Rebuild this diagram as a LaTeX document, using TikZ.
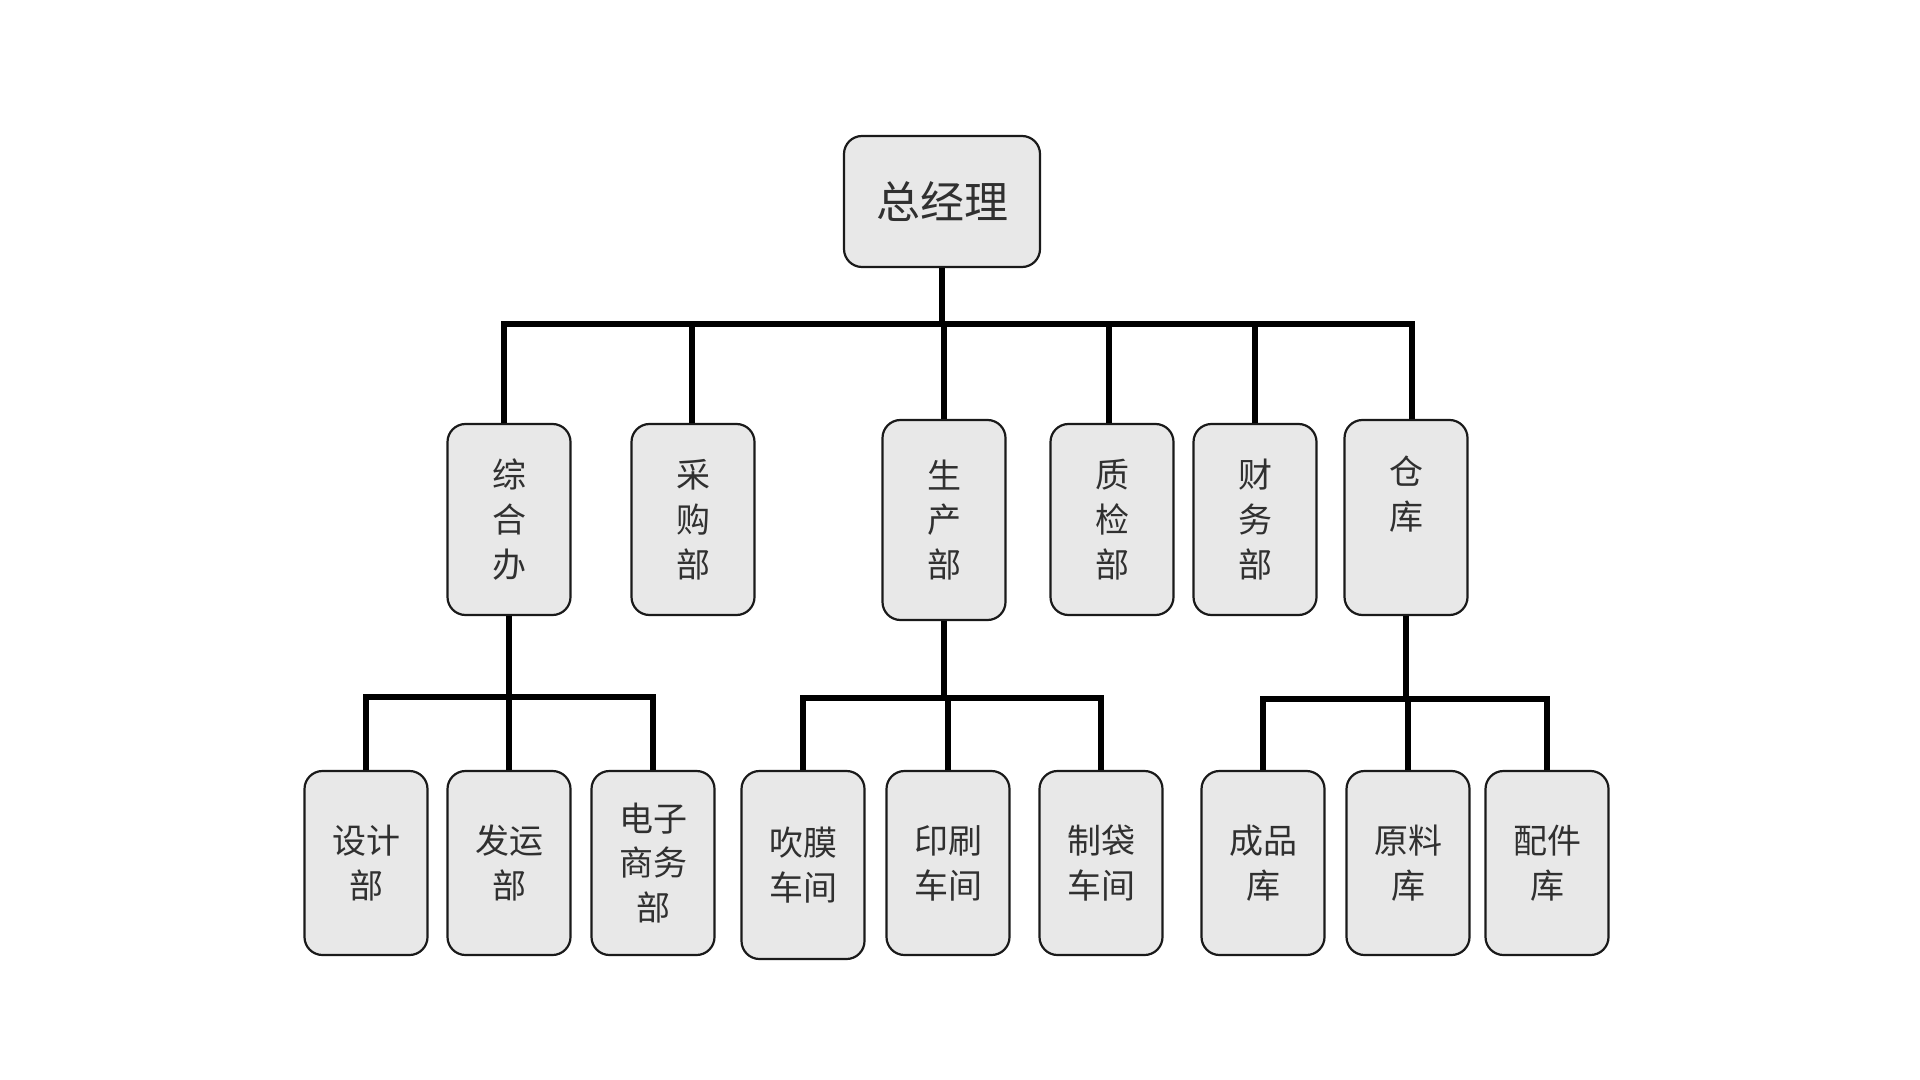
\documentclass[tikz,border=0pt]{standalone}
\usepackage{fontspec}
\newfontfamily\cjk{Noto Sans CJK SC}
\usepackage{xcolor}
\usepackage{tikz}
\usetikzlibrary{positioning,calc}
\definecolor{BoxF}{HTML}{E8E8E8}
\definecolor{BoxD}{HTML}{1A1A1A}
\definecolor{TxtG}{HTML}{303030}

\begin{document}
\begin{tikzpicture}[x=0.5pt,y=-0.5pt,
    unit/.style={draw=BoxD,fill=BoxF,rounded corners=9pt,line width=1.1pt,
      minimum width=61.5pt,minimum height=95.5pt,align=center,text=TxtG,
      font=\cjk\fontsize{17pt}{22.4pt}\selectfont,inner sep=0pt},
    sub/.style={unit,minimum height=92pt},
    head/.style={unit,minimum width=98pt,minimum height=65.5pt,
      font=\cjk\fontsize{22pt}{26pt}\selectfont},
    conn/.style={draw=black,line width=2.8pt}]
  \useasboundingbox (0,0) rectangle (1920,1080);
  % top
  \node[head] (gm) at (942,201.5) {总经理};
  % departments
  \node[unit] (zhb) at (509,519.5) {综\\合\\办};
  \node[unit] (cgb) at (693,519.5) {采\\购\\部};
  \node[unit,minimum height=100pt] (scb) at (944,520) {生\\产\\部};
  \node[unit] (zjb) at (1112,519.5) {质\\检\\部};
  \node[unit] (cwb) at (1255,519.5) {财\\务\\部};
  \node[unit,minimum height=97.5pt] (ck) at (1406,517.5) {仓\\库\\[-4pt]\strut};
  % sections
  \node[sub] (sjb) at (366,863) {设计\\部};
  \node[sub] (fyb) at (509,863) {发运\\部};
  \node[sub] (dzsw) at (653,863) {电子\\商务\\部};
  \node[sub,minimum height=94pt] (cmcj) at (803,865) {吹膜\\车间};
  \node[sub] (yscj) at (948,863) {印刷\\车间};
  \node[sub] (zdcj) at (1101,863) {制袋\\车间};
  \node[sub] (cpk) at (1263,863) {成品\\库};
  \node[sub] (ylk) at (1408,863) {原料\\库};
  \node[sub] (pjk) at (1547,863) {配件\\库};
  % lines
  \coordinate (bus) at ($(gm.south)+(0,56)$);
  \foreach \d/\dx in {zhb/-5,cgb/-1,scb/0,zjb/-3,cwb/0,ck/6}
    \draw[conn] (gm.south) -- (bus) -| ([xshift=\dx*0.5pt]\d.north);
  \coordinate (busA) at ($(zhb.south)+(0,81)$);
  \foreach \d in {sjb,fyb,dzsw}
    \draw[conn] (zhb.south) -- (busA) -| (\d.north);
  \coordinate (busB) at ($(scb.south)+(0,77)$);
  \foreach \d in {cmcj,yscj,zdcj}
    \draw[conn] (scb.south) -- (busB) -| (\d.north);
  \coordinate (busC) at ($(ck.south)+(0,83)$);
  \foreach \d in {cpk,ylk,pjk}
    \draw[conn] (ck.south) -- (busC) -| (\d.north);
\end{tikzpicture}
\end{document}
